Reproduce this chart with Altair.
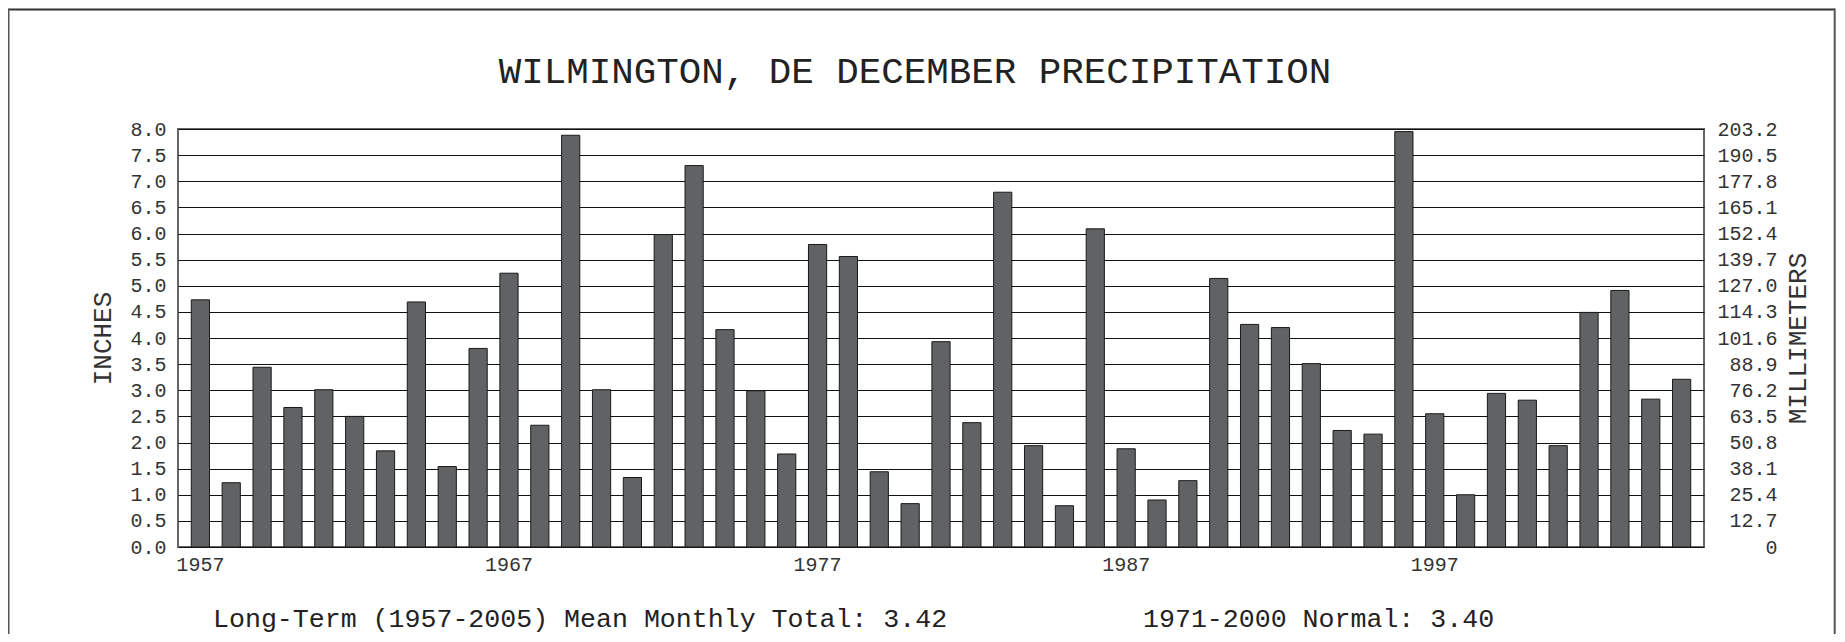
import altair as alt
import pandas as pd

years = list(range(1957, 2006))
inches = [4.73, 1.23, 3.44, 2.67, 3.01, 2.50, 1.84, 4.69, 1.54, 3.80,
          5.24, 2.33, 7.88, 3.01, 1.33, 5.98, 7.30, 4.16, 2.99, 1.78,
          5.79, 5.56, 1.44, 0.83, 3.93, 2.38, 6.79, 1.94, 0.79, 6.09,
          1.88, 0.90, 1.27, 5.14, 4.26, 4.20, 3.51, 2.23, 2.16, 7.95,
          2.55, 1.00, 2.94, 2.81, 1.94, 4.49, 4.91, 2.83, 3.21]
year_labels = [1957, 1967, 1977, 1987, 1997]
inch_ticks = [0.0, 0.5, 1.0, 1.5, 2.0, 2.5, 3.0, 3.5, 4.0, 4.5, 5.0, 5.5,
              6.0, 6.5, 7.0, 7.5, 8.0]
title_text = "WILMINGTON, DE DECEMBER PRECIPITATION"
footer_left = "Long-Term (1957-2005) Mean Monthly Total: 3.42"
footer_right = "1971-2000 Normal: 3.40"

FONT = "Courier New, Nimbus Mono PS, FreeMono, Liberation Mono, monospace"
TXT = "#333333"

df = pd.DataFrame({"year": years, "inches": inches})

x_enc = alt.X(
    "year:O",
    scale=alt.Scale(paddingInner=0.41, paddingOuter=0.43),
    axis=alt.Axis(values=year_labels, labelAngle=0, ticks=False, domain=False,
                  labelPadding=7, title=None, labelFont=FONT, labelFontSize=20,
                  labelColor=TXT, grid=False),
)

bars = alt.Chart(df).mark_bar(
    color="#616264", stroke="#1a1a1a", strokeWidth=1
).encode(
    x=x_enc,
    y=alt.Y("inches:Q",
            scale=alt.Scale(domain=[0, 8], nice=False),
            axis=alt.Axis(values=inch_ticks, format=".1f", grid=True,
                          gridColor="#111111", gridWidth=1, gridOpacity=1,
                          ticks=False, domain=False, labelPadding=12,
                          labelFont=FONT, labelFontSize=20, labelColor=TXT,
                          title="INCHES", titleFont=FONT, titleFontSize=26,
                          titleFontWeight="normal", titleColor=TXT,
                          titlePadding=14)),
)

right_axis = alt.Chart(df).mark_bar(opacity=0).encode(
    x=x_enc,
    y=alt.Y("inches:Q",
            scale=alt.Scale(domain=[0, 8], nice=False),
            axis=alt.Axis(orient="right", values=inch_ticks, grid=False,
                          labelExpr="datum.value == 0 ? '0\u00a0\u00a0' : format(datum.value * 25.4, '.1f')",
                          ticks=False, domain=False, labelPadding=73,
                          labelAlign="right", labelFont=FONT, labelFontSize=20,
                          labelColor=TXT, title="MILLIMETERS", titleAngle=270,
                          titleX=93, titleY=209, titleAlign="center",
                          titleBaseline="middle",
                          titleFont=FONT, titleFontSize=26,
                          titleFontWeight="normal", titleColor=TXT)),
)

one = pd.DataFrame({"k": [0]})

title = alt.Chart(one).mark_text(
    font=FONT, fontSize=37.5, color="#222222", align="center", baseline="middle"
).encode(x=alt.value(737), y=alt.value(-57), text=alt.value(title_text))

foot1 = alt.Chart(one).mark_text(
    font=FONT, fontSize=26.6, color="#222222", align="left", baseline="alphabetic"
).encode(x=alt.value(35), y=alt.value(498), text=alt.value(footer_left))

foot2 = alt.Chart(one).mark_text(
    font=FONT, fontSize=26.6, color="#222222", align="left", baseline="alphabetic"
).encode(x=alt.value(965), y=alt.value(498), text=alt.value(footer_right))

frame_top = alt.Chart(one).mark_rule(stroke="#333333", strokeWidth=2).encode(
    x=alt.value(-169.5), x2=alt.value(1657), y=alt.value(-119.5))
frame_left = alt.Chart(one).mark_rule(stroke="#555555", strokeWidth=2).encode(
    x=alt.value(-169.5), y=alt.value(-120.5), y2=alt.value(510))
frame_right = alt.Chart(one).mark_rule(stroke="#555555", strokeWidth=2).encode(
    x=alt.value(1656.7), y=alt.value(-120.5), y2=alt.value(510))

chart = alt.layer(bars, right_axis, title, foot1, foot2,
                  frame_top, frame_left, frame_right).resolve_scale(
    y="independent"
).properties(
    width=1526, height=418,
    autosize=alt.AutoSizeParams(type="none"),
    padding={"left": 170, "top": 121, "right": 133, "bottom": 87},
).configure_view(stroke="#666666", strokeWidth=2)

chart.save("out.html", embed_options={"renderer": "svg", "actions": False})
